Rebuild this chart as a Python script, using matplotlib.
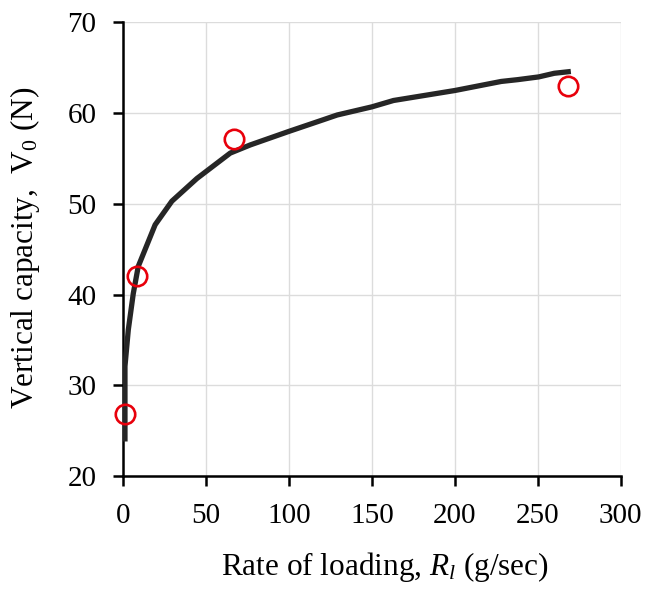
import matplotlib
matplotlib.use("Agg")
import matplotlib.pyplot as plt

plt.rcParams['font.family'] = ['Liberation Serif', 'DejaVu Serif']
plt.rcParams['mathtext.fontset'] = 'custom'
plt.rcParams['mathtext.rm'] = 'Liberation Serif'
plt.rcParams['mathtext.it'] = 'Liberation Serif:italic'

# Fitted curve
curve_x = [1.0, 1.0, 3, 6, 9, 19.2, 29.3, 44.4, 64.5, 76.6, 100, 121, 129, 150, 163, 200, 228, 238, 250.6, 260, 270]
curve_y = [23.8, 32.1, 36.1, 40.1, 43.1, 47.7, 50.3, 52.8, 55.6, 56.5, 58.0, 59.3, 59.8, 60.7, 61.4, 62.5, 63.5, 63.7, 64.0, 64.4, 64.6]

# Measured points
meas_x = [1.0, 8.1, 66.5, 268]
meas_y = [26.8, 42.0, 57.1, 63.0]

x_ticks = [0, 50, 100, 150, 200, 250, 300]
y_ticks = [20, 30, 40, 50, 60, 70]

fig = plt.figure(figsize=(6.68, 5.92), dpi=100)
ax = fig.add_axes([0.1846, 0.196, 0.929 - 0.1846, 0.962 - 0.196])

ax.plot(curve_x, curve_y, color='#262626', lw=3.8, solid_capstyle='butt', zorder=3)
ax.plot(meas_x, meas_y, linestyle='none', marker='o', ms=14, mfc='none',
        mec='#e8000b', mew=1.9, zorder=4, clip_on=False)

ax.set_xlim(0, 300)
ax.set_ylim(20, 70)
ax.set_xticks(x_ticks)
ax.set_yticks(y_ticks)
ax.grid(True, color='#dcdcdc', lw=1.0, zorder=0)
ax.set_axisbelow(True)

for s in ['top', 'right']:
    ax.spines[s].set_visible(False)
for s in ['left', 'bottom']:
    ax.spines[s].set_linewidth(1.8)
    ax.spines[s].set_color('black')

ax.tick_params(axis='both', direction='out', length=7.2, width=1.8, labelsize=21)
ax.tick_params(axis='y', pad=12.2)
ax.tick_params(axis='x', pad=12)

ax.set_xlabel(r'Rate of loading, $\mathit{R}_{\mathit{l}}$ (g/sec)', fontsize=22.5)
ax.set_ylabel(r'Vertical capacity,  V$_0$ (N)', fontsize=22.5)
ax.xaxis.set_label_coords(0.527, -0.163)
ax.yaxis.set_label_coords(-0.163, 0.503)

fig.savefig('out.png', dpi=100)
